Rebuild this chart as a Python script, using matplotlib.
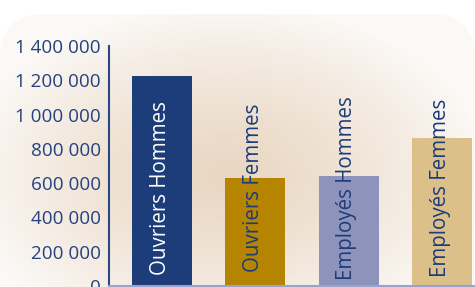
import numpy as np
import matplotlib
matplotlib.use("Agg")
import matplotlib.pyplot as plt
from matplotlib.patches import FancyBboxPatch
from matplotlib.ticker import FuncFormatter

categories = ["Ouvriers Hommes", "Ouvriers Femmes", "Employés Hommes", "Employés Femmes"]
values = [1225000, 630000, 642000, 863000]
bar_colors = ["#1c3c7a", "#b58400", "#8e93bb", "#dcc08a"]
label_colors = ["#ffffff", "#1c3c7a", "#1c3c7a", "#1c3c7a"]
yticks = [0, 200000, 400000, 600000, 800000, 1000000, 1200000, 1400000]

W, H = 475, 287
fig = plt.figure(figsize=(W / 100, H / 100), dpi=100)
fig.patch.set_facecolor("white")

# background gradient panel
bg = fig.add_axes([0, 0, 1, 1])
bg.set_xlim(0, W)
bg.set_ylim(H, 0)
bg.axis("off")
yy, xx = np.mgrid[0:H, 0:W]
d = np.sqrt(((xx - 225) / 260.0) ** 2 + ((yy - 175) / 170.0) ** 2)
t = np.clip(d, 0, 1) ** 1.3
c_in = np.array([233, 215, 195]) / 255.0
c_out = np.array([251, 248, 245]) / 255.0
img = c_in[None, None, :] * (1 - t[..., None]) + c_out[None, None, :] * t[..., None]
im = bg.imshow(img, extent=(0, W, H, 0), interpolation="bilinear")
clip = FancyBboxPatch((0, 14), W, H + 60, boxstyle="round,pad=0,rounding_size=45",
                      transform=bg.transData, facecolor="none", edgecolor="none")
bg.add_patch(clip)
im.set_clip_path(clip)

# main axes
left = 109 / W
bottom = (H - 286) / H
top = (H - 46) / H
ax = fig.add_axes([left, bottom, 1 - left, top - bottom])
ax.patch.set_alpha(0)
x = np.arange(len(categories))
ax.bar(x, values, width=0.643, color=bar_colors, zorder=2)
ax.set_xlim(-0.568, 3.354)
ax.set_ylim(0, 1400000)
ax.set_yticks(yticks)
ax.yaxis.set_major_formatter(FuncFormatter(lambda v, p: f"{int(v):,}".replace(",", " ")))
ax.set_xticks([])
ax.tick_params(axis="y", length=0, pad=6, labelsize=13.6, labelcolor="#23427e")
for lab in ax.get_yticklabels():
    lab.set_family("Open Sans")
for s in ["top", "right"]:
    ax.spines[s].set_visible(False)
ax.spines["left"].set_color("#2a4785")
ax.spines["left"].set_linewidth(1.5)
ax.spines["bottom"].set_color("#9aa3cc")
ax.spines["bottom"].set_linewidth(1.5)

for xi, cat, lc in zip(x, categories, label_colors):
    ax.text(xi - 0.02, 572000, cat, rotation=90, ha="center", va="center",
            color=lc, fontsize=14.8, family="Open Sans", zorder=3)

fig.savefig("out.png", dpi=100)
